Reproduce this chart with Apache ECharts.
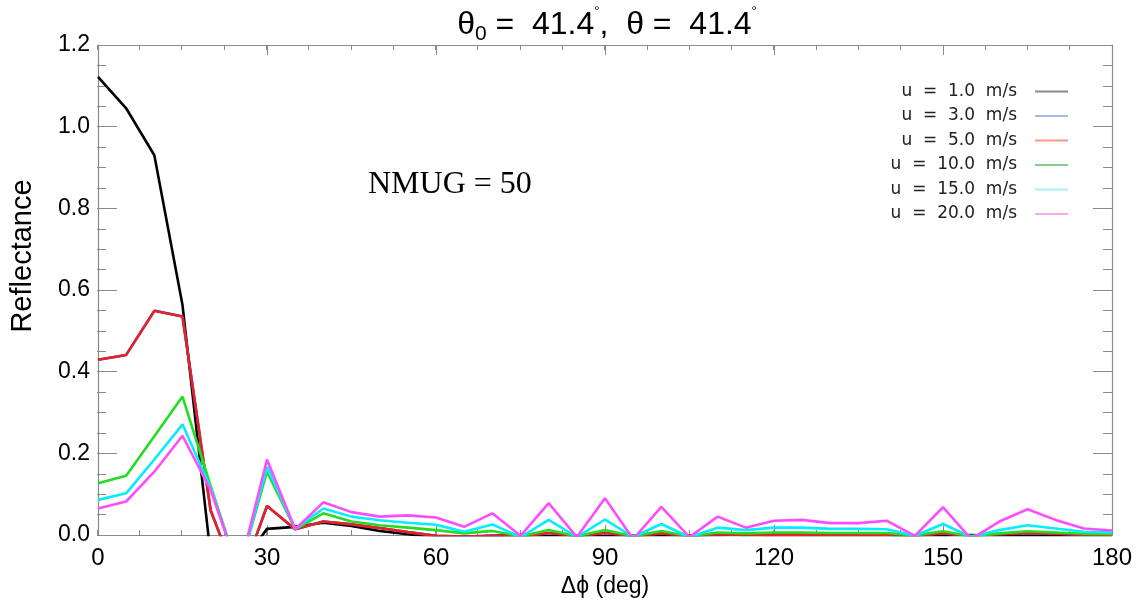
<!DOCTYPE html>
<html>
<head>
<meta charset="utf-8">
<script src="https://cdn.jsdelivr.net/npm/echarts@6/dist/echarts.min.js"></script>
<style>
  html, body { margin: 0; padding: 0; background: #ffffff; }
  #chart { width: 1141px; height: 607px; }
</style>
</head>
<body>
<div id="chart"></div>
<script>
// Relative azimuth (deg)
const angles = [0, 5, 10, 15, 20, 25, 30, 35, 40, 45, 50, 55, 60, 65, 70, 75, 80, 85, 90,
                95, 100, 105, 110, 115, 120, 125, 130, 135, 140, 145, 150, 155, 160, 165, 170, 175, 180];

// Reflectance for each wind speed (values below zero are clipped by the plot box)
const refl_u1 = [1.122, 1.045, 0.930, 0.563, -0.050, -0.080, 0.015, 0.020, 0.030, 0.022, 0.010, 0.002, -0.005,
                 -0.005, -0.002, 0.000, -0.003, -0.003, -0.003, -0.003, -0.003, -0.002, -0.001, 0.000, -0.002,
                 -0.002, -0.002, -0.002, -0.002, -0.002, -0.002, 0.000, -0.002, -0.002, -0.002, -0.002, -0.002];
const refl_u3 = [0.429, 0.441, 0.549, 0.535, 0.060, -0.120, 0.071, 0.014, 0.033, 0.026, 0.017, 0.007, -0.002,
                 -0.004, -0.002, -0.004, 0.005, -0.002, 0.005, -0.002, 0.004, -0.002, 0.002, 0.000, 0.001,
                 0.001, 0.001, 0.001, 0.001, -0.001, 0.004, -0.002, 0.002, 0.005, 0.003, 0.001, 0.001];
const refl_u5 = [0.429, 0.441, 0.549, 0.535, 0.060, -0.120, 0.071, 0.014, 0.033, 0.026, 0.017, 0.007, -0.002,
                 -0.004, -0.002, -0.004, 0.005, -0.002, 0.005, -0.002, 0.004, -0.002, 0.002, 0.000, 0.001,
                 0.001, 0.001, 0.001, 0.001, -0.001, 0.004, -0.002, 0.002, 0.005, 0.003, 0.001, 0.001];
const refl_u10 = [0.127, 0.145, 0.242, 0.339, 0.120, -0.090, 0.155, 0.014, 0.053, 0.033, 0.024, 0.018, 0.012,
                  0.004, 0.010, -0.003, 0.012, -0.003, 0.012, -0.003, 0.010, -0.003, 0.006, 0.004, 0.006,
                  0.006, 0.005, 0.005, 0.005, -0.001, 0.009, -0.003, 0.004, 0.009, 0.006, 0.003, 0.002];
const refl_u15 = [0.086, 0.102, 0.185, 0.271, 0.115, -0.090, 0.167, 0.015, 0.065, 0.045, 0.036, 0.030, 0.025,
                  0.008, 0.026, -0.005, 0.037, -0.005, 0.038, -0.005, 0.027, -0.005, 0.018, 0.012, 0.018,
                  0.018, 0.015, 0.015, 0.014, -0.002, 0.027, -0.005, 0.012, 0.024, 0.016, 0.008, 0.006];
const refl_u20 = [0.065, 0.082, 0.155, 0.243, 0.110, -0.090, 0.185, 0.014, 0.080, 0.056, 0.045, 0.048, 0.043,
                  0.020, 0.053, -0.002, 0.078, -0.005, 0.090, -0.010, 0.069, -0.005, 0.045, 0.018, 0.035,
                  0.037, 0.029, 0.029, 0.035, -0.002, 0.068, -0.010, 0.033, 0.063, 0.037, 0.016, 0.011];

const seriesNames = ['u = 1.0 m/s', 'u = 3.0 m/s', 'u = 5.0 m/s', 'u = 10.0 m/s', 'u = 15.0 m/s', 'u = 20.0 m/s'];
const seriesValues = [refl_u1, refl_u3, refl_u5, refl_u10, refl_u15, refl_u20];
const lineColors = ['#000000', '#2a3cff', '#e8231f', '#22dd22', '#00eeff', '#ff4cff'];
const legendColors = ['#8a8a8a', '#aab8f0', '#f59a88', '#88cc88', '#a8f0f0', '#f5aaf0'];

const yTicks = ['0.0', '0.2', '0.4', '0.6', '0.8', '1.0', '1.2'];
const xTicks = ['0', '30', '60', '90', '120', '150', '180'];

const axisGray = '#8a8a8a';
const plotBox = { left: 97, right: 29, top: 45, bottom: 72, containLabel: false };

const chart = echarts.init(document.getElementById('chart'), null, { renderer: 'canvas' });

// One side of the plot frame; ticks point into the plot
function frameAxis(opts) {
  return {
    type: 'value',
    gridIndex: opts.grid,
    position: opts.position,
    min: opts.min, max: opts.max, interval: opts.interval,
    axisLine: { show: opts.line, onZero: false, lineStyle: { color: axisGray, width: 1.2 } },
    axisTick: { show: true, inside: true, length: opts.tickLen, lineStyle: { color: axisGray, width: 1 } },
    axisLabel: opts.label || { show: false },
    splitLine: { show: false },
    minorTick: { show: false },
    minorSplitLine: { show: false },
    name: opts.name || '',
    nameLocation: 'middle',
    nameGap: opts.nameGap || 0,
    nameTextStyle: opts.nameStyle || {}
  };
}

const xLabel = {
  show: true, margin: 11,
  fontFamily: 'Liberation Sans', fontSize: 24, color: '#000',
  formatter: function (v) { return xTicks[Math.round(v / 30)]; }
};
const yLabel = {
  show: true, margin: 8,
  fontFamily: 'Liberation Sans', fontSize: 23, color: '#000',
  formatter: function (v) { return yTicks[Math.round(v / 0.2)]; }
};

const option = {
  backgroundColor: '#ffffff',
  animation: false,
  // grid 0 carries the data and the major ticks, grid 1 the minor ticks
  grid: [Object.assign({}, plotBox), Object.assign({}, plotBox)],
  xAxis: [
    frameAxis({ grid: 0, position: 'bottom', min: 0, max: 180, interval: 30, line: true, tickLen: 10,
      label: xLabel, name: 'Δϕ (deg)', nameGap: 40,
      nameStyle: { fontFamily: 'Liberation Sans', fontSize: 23, color: '#000' } }),
    frameAxis({ grid: 0, position: 'top', min: 0, max: 180, interval: 30, line: true, tickLen: 10 }),
    frameAxis({ grid: 1, position: 'bottom', min: 0, max: 180, interval: 7.5, line: false, tickLen: 5 }),
    frameAxis({ grid: 1, position: 'top', min: 0, max: 180, interval: 7.5, line: false, tickLen: 5 })
  ],
  yAxis: [
    frameAxis({ grid: 0, position: 'left', min: 0, max: 1.2, interval: 0.2, line: true, tickLen: 19,
      label: yLabel, name: 'Reflectance', nameGap: 61,
      nameStyle: { fontFamily: 'Liberation Sans', fontSize: 29, color: '#000', padding: [0, 0, 0, 68] } }),
    frameAxis({ grid: 0, position: 'right', min: 0, max: 1.2, interval: 0.2, line: true, tickLen: 19 }),
    frameAxis({ grid: 1, position: 'left', min: 0, max: 1.2, interval: 0.05, line: false, tickLen: 9 }),
    frameAxis({ grid: 1, position: 'right', min: 0, max: 1.2, interval: 0.05, line: false, tickLen: 9 })
  ],
  legend: {
    orient: 'vertical',
    align: 'right',
    right: 68,
    top: 78,
    itemWidth: 33,
    itemHeight: 2,
    itemGap: 7.5,
    icon: 'rect',
    selectedMode: false,
    formatter: function (n) { return n.replace(/ /g, '  '); },
    textStyle: { fontFamily: 'DejaVu Sans', fontSize: 17, color: '#222', padding: [0, 13, 0, 0] },
    data: seriesNames.map(function (n, i) {
      return { name: n, icon: 'rect', itemStyle: { color: legendColors[i] } };
    })
  },
  graphic: [
    {
      type: 'text',
      x: 607, y: 25,
      style: {
        text: '{a|θ}{sub|0}{a| =  41.4}{sup|°}{a|,  θ =  41.4}{sup|°}',
        align: 'center',
        verticalAlign: 'middle',
        rich: {
          a: { fontFamily: 'Liberation Sans', fontSize: 32, lineHeight: 40, fill: '#000', verticalAlign: 'middle' },
          sub: { fontFamily: 'Liberation Sans', fontSize: 21, lineHeight: 40, fill: '#000', verticalAlign: 'bottom' },
          sup: { fontFamily: 'Liberation Sans', fontSize: 13, lineHeight: 40, fill: '#000', verticalAlign: 'top' }
        }
      }
    },
    {
      type: 'text',
      x: 368, y: 185,
      style: {
        text: 'NMUG = 50',
        fontFamily: 'Liberation Serif',
        fontSize: 32,
        fill: '#000',
        align: 'left',
        verticalAlign: 'middle'
      }
    }
  ],
  series: seriesNames.map(function (n, i) {
    return {
      name: n,
      type: 'line',
      xAxisIndex: 0,
      yAxisIndex: 0,
      symbol: 'none',
      clip: true,
      lineStyle: { color: lineColors[i], width: 2.6 },
      itemStyle: { color: lineColors[i] },
      emphasis: { disabled: true },
      data: angles.map(function (a, k) { return [a, seriesValues[i][k]]; })
    };
  })
};

chart.setOption(option);
</script>
</body>
</html>
